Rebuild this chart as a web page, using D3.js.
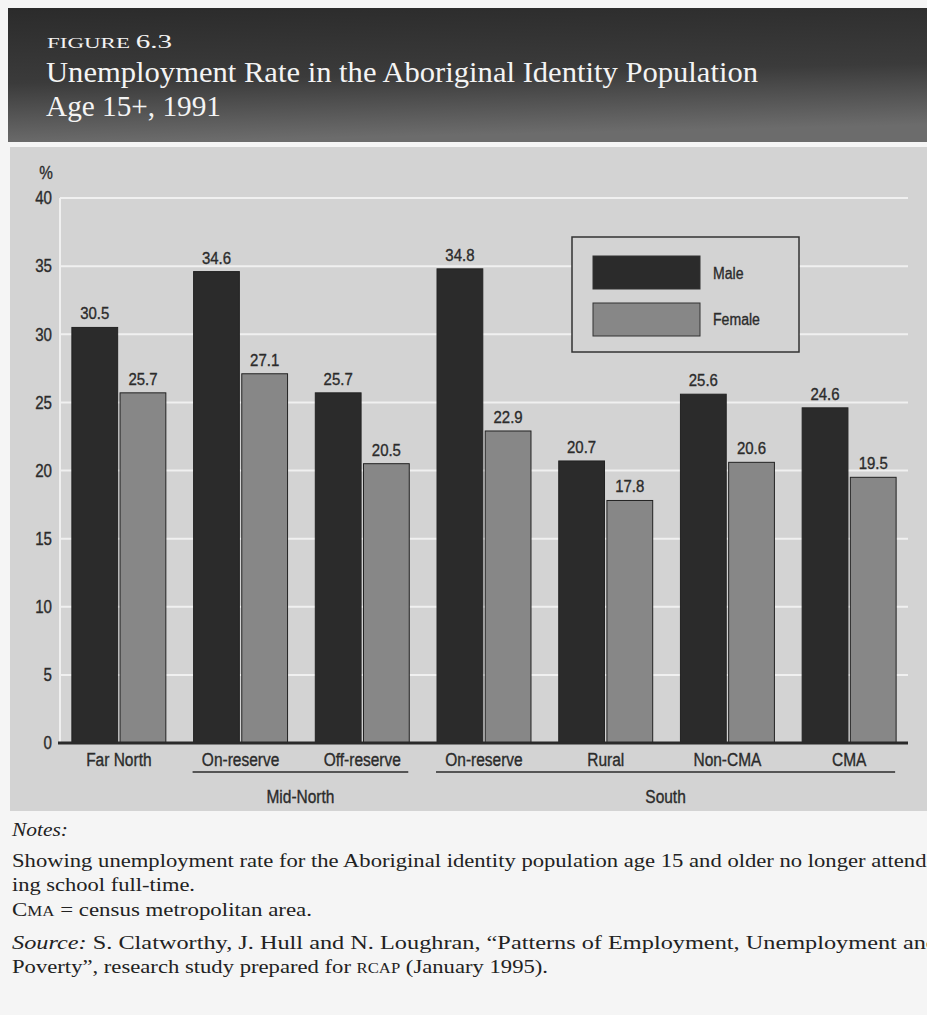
<!DOCTYPE html>
<html>
<head>
<meta charset="utf-8">
<script src="https://cdn.jsdelivr.net/npm/d3@7/dist/d3.min.js"></script>
<style>
  html, body { margin: 0; padding: 0; background: #f5f5f5; overflow: hidden; }
  svg { display: block; }
</style>
</head>
<body>
<svg id="fig" width="927" height="1015"></svg>
<script>
// Unemployment rate, Aboriginal identity population age 15+, 1991
const categories = ["Far North", "On-reserve", "Off-reserve", "On-reserve", "Rural", "Non-CMA", "CMA"];
const maleValues = [30.5, 34.6, 25.7, 34.8, 20.7, 25.6, 24.6];
const femaleValues = [25.7, 27.1, 20.5, 22.9, 17.8, 20.6, 19.5];
const seriesNames = ["Male", "Female"];
const yTicks = [0, 5, 10, 15, 20, 25, 30, 35, 40];
// Region groupings: [label, first category index, last category index]
const regionGroups = [["Mid-North", 1, 2], ["South", 3, 6]];

const svg = d3.select("#fig");
const W = 927;

// Squeeze a text element horizontally to mimic a condensed face
function condense(sel, k) {
  sel.each(function () {
    const len = this.getComputedTextLength();
    d3.select(this).attr("textLength", len * k).attr("lengthAdjust", "spacingAndGlyphs");
  });
}

const defs = svg.append("defs");
const grad = defs.append("linearGradient").attr("id", "hdr")
  .attr("x1", 0).attr("y1", 0).attr("x2", 0.15).attr("y2", 1);
grad.append("stop").attr("offset", "0%").attr("stop-color", "#2b2b2b");
grad.append("stop").attr("offset", "55%").attr("stop-color", "#3b3b3b");
grad.append("stop").attr("offset", "100%").attr("stop-color", "#6c6c6c");

// Header band
svg.append("rect").attr("x", 8).attr("y", 8).attr("width", W - 8).attr("height", 134)
  .attr("fill", "url(#hdr)");

const serif = "'Liberation Serif', 'DejaVu Serif', serif";
const sans = "'Liberation Sans', Arial, sans-serif";
const ink = "#2b2b2b";

const hdr = svg.append("g").attr("fill", "#f4f4f4").attr("font-family", serif);
const fig = hdr.append("text").attr("x", 47).attr("y", 48)
  .attr("textLength", 125).attr("lengthAdjust", "spacingAndGlyphs");
fig.append("tspan").attr("font-size", 15).text("FIGURE ");
fig.append("tspan").attr("font-size", 19).text("6.3");
hdr.append("text").attr("x", 46).attr("y", 82)
  .attr("font-size", 29)
  .attr("textLength", 712).attr("lengthAdjust", "spacingAndGlyphs")
  .text("Unemployment Rate in the Aboriginal Identity Population");
hdr.append("text").attr("x", 46).attr("y", 116)
  .attr("font-size", 29)
  .attr("textLength", 175).attr("lengthAdjust", "spacingAndGlyphs")
  .text("Age 15+, 1991");

// Chart panel
svg.append("rect").attr("x", 10).attr("y", 147).attr("width", W - 10).attr("height", 664)
  .attr("fill", "#d3d3d3");

// Scales
const x0 = d3.scaleBand().domain(d3.range(categories.length))
  .range([58, 910]).paddingInner(0.228).paddingOuter(0.114);
const x1 = d3.scaleBand().domain(seriesNames)
  .range([0, x0.bandwidth()]).paddingInner(0.05);
const y = d3.scaleLinear().domain([0, 40]).range([743, 198]);

const plotLeft = 60, plotRight = 908;

// Gridlines
svg.append("g").selectAll("line").data(yTicks.filter(t => t > 0)).join("line")
  .attr("x1", plotLeft).attr("x2", plotRight)
  .attr("y1", d => y(d)).attr("y2", d => y(d))
  .attr("stroke", "#f0f0f0").attr("stroke-width", 2);
svg.append("line").attr("x1", plotLeft).attr("x2", plotLeft)
  .attr("y1", y(40)).attr("y2", y(0))
  .attr("stroke", "#f0f0f0").attr("stroke-width", 2);

// Chart text style: slightly heavy condensed sans
function chartText(sel, size) {
  sel.attr("font-family", sans).attr("font-size", size).attr("fill", ink)
    .attr("stroke", ink).attr("stroke-width", 0.35);
}

// Y axis labels
const yAxis = d3.axisLeft(y).tickValues(yTicks).tickSize(0).tickPadding(0);
const yg = svg.append("g").attr("transform", `translate(52,0)`).call(yAxis);
yg.select(".domain").remove();
yg.selectAll("text").call(chartText, 18);
condense(yg.selectAll("text"), 0.84);
svg.append("text").attr("x", 46).attr("y", 179).attr("text-anchor", "middle")
  .call(chartText, 18).text("%").call(condense, 0.85);

// Legend
const lg = svg.append("g");
lg.append("rect").attr("x", 572).attr("y", 237).attr("width", 227).attr("height", 115)
  .attr("fill", "#d3d3d3").attr("stroke", "#333").attr("stroke-width", 1.5);
const legendColors = { Male: "#2b2b2b", Female: "#878787" };
seriesNames.forEach((s, i) => {
  lg.append("rect").attr("x", 593).attr("y", 256 + i * 47).attr("width", 107).attr("height", 33)
    .attr("fill", legendColors[s]).attr("stroke", "#333").attr("stroke-width", 1);
  lg.append("text").attr("x", 713).attr("y", 279 + i * 46)
    .call(chartText, 16).text(s).call(condense, 0.88);
});

// Bars
const rows = categories.map((c, i) => ({ i, c, Male: maleValues[i], Female: femaleValues[i] }));
const groups = svg.append("g").selectAll("g").data(rows).join("g")
  .attr("transform", d => `translate(${x0(d.i)},0)`);
groups.selectAll("rect").data(d => seriesNames.map(s => ({ s, v: d[s] }))).join("rect")
  .attr("x", d => x1(d.s)).attr("width", x1.bandwidth())
  .attr("y", d => y(d.v)).attr("height", d => y(0) - y(d.v))
  .attr("fill", d => legendColors[d.s]).attr("stroke", "#222").attr("stroke-width", 1);
const vals = groups.selectAll("text.val").data(d => seriesNames.map(s => ({ s, v: d[s] }))).join("text")
  .attr("class", "val")
  .attr("x", d => x1(d.s) + x1.bandwidth() / 2).attr("y", d => y(d.v) - 8)
  .attr("text-anchor", "middle")
  .call(chartText, 17)
  .text(d => d.v.toFixed(1));
condense(vals, 0.88);

// Baseline
svg.append("line").attr("x1", plotLeft - 2).attr("x2", plotRight)
  .attr("y1", y(0)).attr("y2", y(0)).attr("stroke", "#2a2a2a").attr("stroke-width", 3);

// Category labels
const xAxis = d3.axisBottom(x0).tickSize(0).tickPadding(0).tickFormat(i => categories[i]);
const xg = svg.append("g").attr("transform", `translate(0,${y(0) + 23})`).call(xAxis);
xg.select(".domain").remove();
xg.selectAll("text").call(chartText, 18).attr("dy", 0);
condense(xg.selectAll("text"), 0.86);

// Region brackets
regionGroups.forEach(([label, a, b]) => {
  const xa = x0(a) - 1, xb = x0(b) + x0.bandwidth() - 1;
  svg.append("line").attr("x1", xa).attr("x2", xb).attr("y1", 772).attr("y2", 772)
    .attr("stroke", "#555").attr("stroke-width", 2);
  svg.append("text").attr("x", (xa + xb) / 2).attr("y", 803).attr("text-anchor", "middle")
    .call(chartText, 18).text(label).call(condense, 0.86);
});

// Notes and source
const notes = svg.append("g").attr("font-family", serif).attr("fill", "#222").attr("font-size", 19);
notes.append("text").attr("x", 12).attr("y", 836).attr("font-style", "italic")
  .attr("textLength", 56).attr("lengthAdjust", "spacingAndGlyphs").text("Notes:");
notes.append("text").attr("x", 12).attr("y", 867)
  .attr("textLength", 922).attr("lengthAdjust", "spacingAndGlyphs")
  .text("Showing unemployment rate for the Aboriginal identity population age 15 and older no longer attend-");
notes.append("text").attr("x", 12).attr("y", 891)
  .attr("textLength", 183).attr("lengthAdjust", "spacingAndGlyphs")
  .text("ing school full-time.");
const cma = notes.append("text").attr("x", 12).attr("y", 916)
  .attr("textLength", 300).attr("lengthAdjust", "spacingAndGlyphs");
cma.append("tspan").text("C");
cma.append("tspan").attr("font-size", 14).text("MA");
cma.append("tspan").text(" = census metropolitan area.");
const src = notes.append("text").attr("x", 12).attr("y", 949)
  .attr("textLength", 926).attr("lengthAdjust", "spacingAndGlyphs");
src.append("tspan").attr("font-style", "italic").text("Source:");
src.append("tspan").text(" S. Clatworthy, J. Hull and N. Loughran, \u201cPatterns of Employment, Unemployment and");
const src2 = notes.append("text").attr("x", 12).attr("y", 973)
  .attr("textLength", 536).attr("lengthAdjust", "spacingAndGlyphs");
src2.append("tspan").text("Poverty\u201d, research study prepared for ");
src2.append("tspan").attr("font-size", 14).text("RCAP");
src2.append("tspan").text(" (January 1995).");
</script>
</body>
</html>
